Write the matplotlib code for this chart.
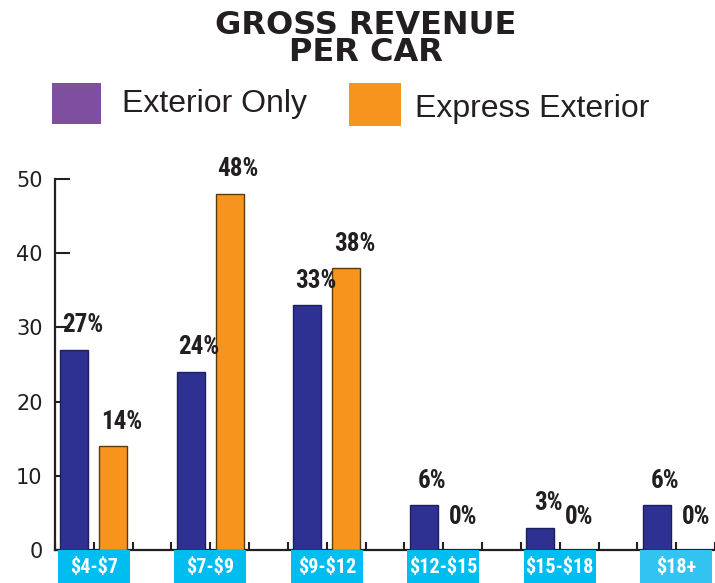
import matplotlib
matplotlib.use("Agg")
import matplotlib.pyplot as plt
from matplotlib import font_manager
from matplotlib.patches import Rectangle
import matplotlib.transforms as mtransforms

# ---- data ----
categories = ["$4-$7", "$7-$9", "$9-$12", "$12-$15", "$15-$18", "$18+"]
series_names = ["Exterior Only", "Express Exterior"]
exterior_only = [27, 24, 33, 6, 3, 6]
express_exterior = [14, 48, 38, 0, 0, 0]
y_ticks = [0, 10, 20, 30, 40, 50]
title_text = "GROSS REVENUE\nPER CAR"

# ---- fonts ----
names = {f.name for f in font_manager.fontManager.ttflist}
NARROW = None
for cand in ["Liberation Sans Narrow", "Roboto Condensed", "Open Sans Condensed",
             "Noto Sans Condensed", "DejaVu Sans Condensed"]:
    if cand in names:
        NARROW = cand
        break
if NARROW is None:
    NARROW = "Roboto" if "Roboto" in names else "DejaVu Sans"
REG = "Liberation Sans" if "Liberation Sans" in names else "DejaVu Sans"

BLUE = "#2E3192"
BLUE_EDGE = "#1E1F5E"
ORANGE = "#F7941D"
ORANGE_EDGE = "#5A3A10"
PURPLE = "#7F4F9F"
CYAN = "#00BDF0"
CYAN_LIGHT = "#33C3F0"
DARK = "#231F20"

fig = plt.figure(figsize=(7.15, 5.83), dpi=100)
ax = fig.add_axes([55 / 715, 33 / 583, 660 / 715, (550 - 179) / 583])

x = list(range(len(categories)))
w = 0.24
off = 0.167
b1 = ax.bar([i - off for i in x], exterior_only, width=w, color=BLUE,
            edgecolor=BLUE_EDGE, linewidth=1.0, zorder=3)
b2 = ax.bar([i + off for i in x], express_exterior, width=w, color=ORANGE,
            edgecolor=ORANGE_EDGE, linewidth=1.0, zorder=3)

# value labels
for bars, vals in ((b1, exterior_only), (b2, express_exterior)):
    for r, v in zip(bars, vals):
        dx = 0.07 if v > 0 else 0.0
        ax.annotate(f"{v}%", (r.get_x() + r.get_width() / 2 + dx, v),
                    xytext=(0, 9 if v > 0 else 15), textcoords="offset points",
                    ha="center", va="bottom", fontsize=18, fontweight="bold",
                    fontstretch="condensed",
                    family=[NARROW, "DejaVu Sans"], color=DARK, zorder=4,
                    annotation_clip=False)

ax.set_xlim(-0.333, len(categories) - 1 + 0.333)
ax.set_ylim(0, 50)

# spines
for s in ("top", "right"):
    ax.spines[s].set_visible(False)
for s in ("left", "bottom"):
    ax.spines[s].set_linewidth(1.6)
    ax.spines[s].set_color(DARK)

ax.set_yticks(y_ticks)
ax.set_yticklabels([str(t) for t in y_ticks])
ax.tick_params(axis="y", direction="in", length=11, width=1.5, color=DARK,
               pad=9, labelsize=15, labelcolor=DARK)
xt = []
for i in x:
    xt += [i - 0.333, i, i + 0.333]
ax.set_xticks(xt)
ax.set_xticklabels([])
ax.tick_params(axis="x", direction="in", length=6, width=1.5, color=DARK)
for lab in ax.get_yticklabels():
    lab.set_family("DejaVu Sans")

# category boxes below axis
trans = mtransforms.blended_transform_factory(ax.transData, ax.transAxes)
for i, cat in enumerate(categories):
    col = CYAN_LIGHT if i == len(categories) - 1 else CYAN
    rect = Rectangle((i - 0.31, -0.12), 0.62, 0.12, transform=trans,
                     facecolor=col, edgecolor="none", clip_on=False, zorder=5)
    ax.add_patch(rect)
    ax.text(i, -0.047, cat.replace("$", r"\$"), transform=trans, ha="center",
            va="center", fontsize=14.5, fontweight="bold", color="white",
            fontstretch="condensed",
            family=[NARROW, "DejaVu Sans"], zorder=6, clip_on=False)

# title
fig.text(0.512, 0.933, title_text, ha="center", va="center", fontsize=23,
         fontweight="heavy", family="DejaVu Sans", color=DARK,
         linespacing=0.85)

# legend (manual)
ftr = fig.transFigure
fig.add_artist(Rectangle((52 / 715, 1 - 124 / 583), 49 / 715, 41 / 583,
                         transform=ftr, facecolor=PURPLE, edgecolor="none"))
fig.add_artist(Rectangle((349 / 715, 1 - 126 / 583), 52 / 715, 43 / 583,
                         transform=ftr, facecolor=ORANGE, edgecolor="none"))
fig.text(122 / 715, 1 - 104 / 583, series_names[0], ha="left", va="center",
         fontsize=23, family=[REG, "DejaVu Sans"], color=DARK)
fig.text(415 / 715, 1 - 109 / 583, series_names[1], ha="left", va="center",
         fontsize=23, family=[REG, "DejaVu Sans"], color=DARK)

fig.savefig("out.png", dpi=100, facecolor="white")
